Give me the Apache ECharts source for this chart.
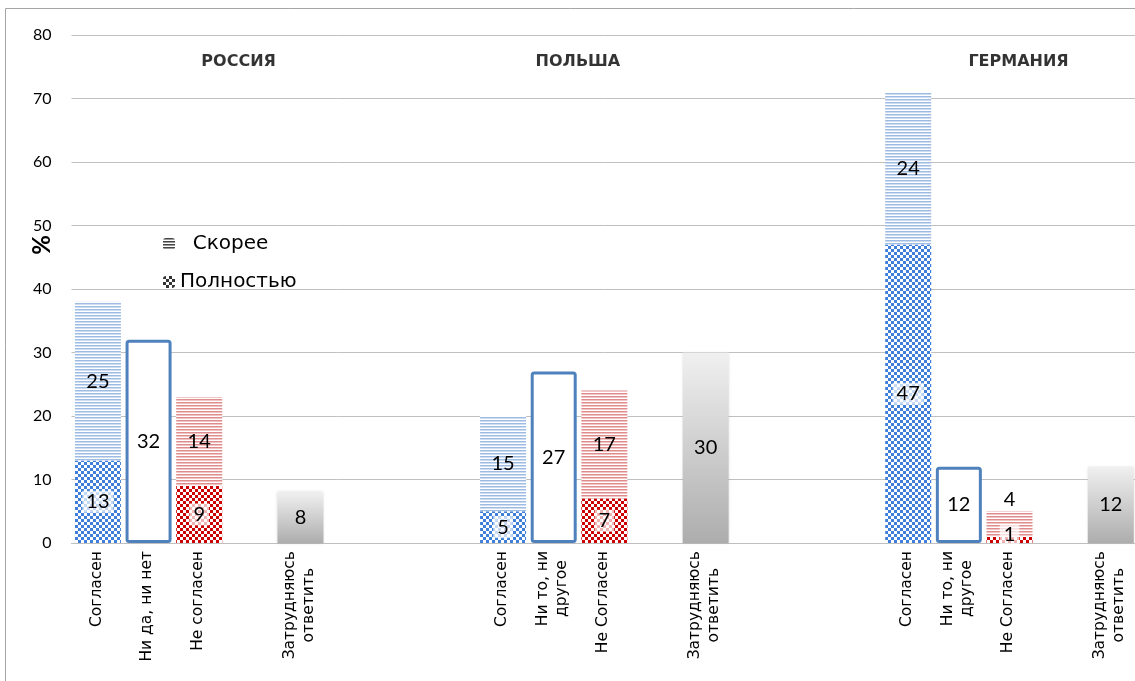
<!DOCTYPE html>
<html><head><meta charset="utf-8">
<script src="https://cdn.jsdelivr.net/npm/echarts@6/dist/echarts.min.js"></script>
<style>html,body{margin:0;padding:0;background:#fff}#c{width:1135px;height:681px}</style>
</head><body><div id="c"></div>
<script>
// ---- data ----
var categories = ['Согласен','Ни да, ни нет','Не согласен','','Затрудняюсь\nответить','','','',
  'Согласен','Ни то, ни\nдругое','Не Согласен','','Затрудняюсь\nответить','','','',
  'Согласен','Ни то, ни\nдругое','Не Согласен','','Затрудняюсь\nответить'];
var groupNames = ['РОССИЯ','ПОЛЬША','ГЕРМАНИЯ'];
var groupStart = [0, 8, 16];          // category index of first bar in each group
var groupLabelX = [3.3, 10.0, 18.7];  // centre of group title on category scale
var groupLabelY = 75.8;
var agreeFull = [13, 5, 47];
var agreeRather = [25, 15, 24];
var neutral = [32, 27, 12];
var disagreeFull = [9, 7, 1];
var disagreeRather = [14, 17, 4];
var hard = [8, 30, 12];
var yTicks = [0,10,20,30,40,50,60,70,80];

function spread(vals, offset){
  var a = categories.map(function(){return null;});
  vals.forEach(function(v,i){ a[groupStart[i]+offset] = v; });
  return a;
}
function stripes(c1, c2){
  var cv = document.createElement('canvas'); cv.width = 4; cv.height = 3;
  var g = cv.getContext('2d');
  g.fillStyle = '#ffffff'; g.fillRect(0,0,4,3);
  g.fillStyle = c1; g.fillRect(0,0,4,1);
  g.fillStyle = c2; g.fillRect(0,1,4,1);
  return {image: cv, repeat: 'repeat'};
}
function checker(c1){
  var cv = document.createElement('canvas'); cv.width = 6; cv.height = 6;
  var g = cv.getContext('2d');
  g.fillStyle = '#ffffff'; g.fillRect(0,0,6,6);
  g.fillStyle = c1; g.fillRect(0,0,3,3); g.fillRect(3,3,3,3);
  return {image: cv, repeat: 'repeat'};
}
var FONT = 'Lato, "Open Sans", sans-serif';
var WIDE = '"DejaVu Sans", sans-serif';
var numLabel = {show:true, position:'inside', color:'#000', fontSize:20, fontFamily:FONT};
var boxLabel = Object.assign({}, numLabel, {backgroundColor:'rgba(255,255,255,0.7)', padding:[2,4,0,4]});

var dRather = spread(disagreeRather, 2);
var dFull = spread(disagreeFull, 2);
// small top segment of Germany: label above the bar
dRather[groupStart[2]+2] = {value: disagreeRather[2], label:{position:'top', distance:2}};
dFull[groupStart[2]+2] = {value: disagreeFull[2], label:{offset:[0,-5]}};

var chart = echarts.init(document.getElementById('c'));
chart.setOption({
  animation:false,
  grid:{left:71.5, right:-5.5, top:35, bottom:138},
  legend:{data:['Скорее','Полностью'], orient:'vertical', left:158, top:229, itemWidth:12, itemHeight:12, itemGap:18,
    formatter:function(n){ return n === 'Скорее' ? '  ' + n : n; },
    textStyle:{fontSize:20, color:'#000', fontFamily:WIDE}, selectedMode:false},
  xAxis:[{type:'category', data:categories,
    axisLine:{lineStyle:{color:'#bfbfbf'}}, axisTick:{show:false},
    axisLabel:{interval:0, rotate:90, margin:8, color:'#000', fontSize:15.5, fontFamily:WIDE,
      formatter:function(v){ return v.split('\n').map(function(s){return '{c|'+s+'}';}).join('\n'); },
      rich:{c:{align:'center', fontSize:15.5, fontFamily:WIDE, color:'#000', lineHeight:19}}}},
    {type:'value', min:0, max:categories.length, show:false}],
  yAxis:{type:'value', min:yTicks[0], max:yTicks[yTicks.length-1], interval:10,
    axisLine:{show:false}, axisTick:{show:false},
    axisLabel:{color:'#000', fontSize:16, margin:20, fontFamily:FONT},
    splitLine:{lineStyle:{color:'#c0c0c0'}}},
  graphic:[
    {type:'rect', shape:{x:5.5, y:8.5, width:2000, height:2000}, style:{fill:'none', stroke:'#a6a6a6', lineWidth:1}, z:-1},
    {type:'text', x:42, y:245, rotation:Math.PI/2, style:{text:'%', font:'bold 24px '+FONT, fill:'#000', align:'center', verticalAlign:'middle'}}
  ],
  series:[
    {name:'Скорее', type:'bar', data:[], itemStyle:{color:stripes('#444','#999')}},
    {name:'Полностью', type:'bar', data:[], itemStyle:{color:checker('#333')}},
    {name:'agreeFull', type:'bar', stack:'a', barWidth:46, data:spread(agreeFull,0), itemStyle:{color:checker('#3d7fd9')}, label:boxLabel},
    {name:'agreeRather', type:'bar', stack:'a', data:spread(agreeRather,0), itemStyle:{color:stripes('#9dbbe3','#cddcf1')}, label:numLabel},
    {name:'neutral', type:'bar', stack:'a', data:spread(neutral,1), itemStyle:{color:'#fff', borderColor:'#4f81bd', borderWidth:3, borderRadius:2}, label:numLabel},
    {name:'disagreeFull', type:'bar', stack:'a', data:dFull, itemStyle:{color:checker('#cc0000')}, label:boxLabel},
    {name:'disagreeRather', type:'bar', stack:'a', data:dRather, itemStyle:{color:stripes('#df8c8c','#f0c4c4')}, label:numLabel},
    {name:'hard', type:'bar', stack:'a', data:spread(hard,4),
      itemStyle:{color:{type:'linear',x:0,y:0,x2:0,y2:1,colorStops:[{offset:0,color:'#f0f0f0'},{offset:1,color:'#adadad'}]},
        shadowBlur:3, shadowColor:'rgba(0,0,0,0.15)'}, label:numLabel},
    {name:'groups', type:'scatter', xAxisIndex:1, symbolSize:0, silent:true,
      data:groupNames.map(function(n,i){return {value:[groupLabelX[i], groupLabelY], name:n};}),
      label:{show:true, position:'inside', formatter:'{b}', color:'#000', fontWeight:'bold', fontSize:16, fontFamily:WIDE}}
  ]
});
</script></body></html>
